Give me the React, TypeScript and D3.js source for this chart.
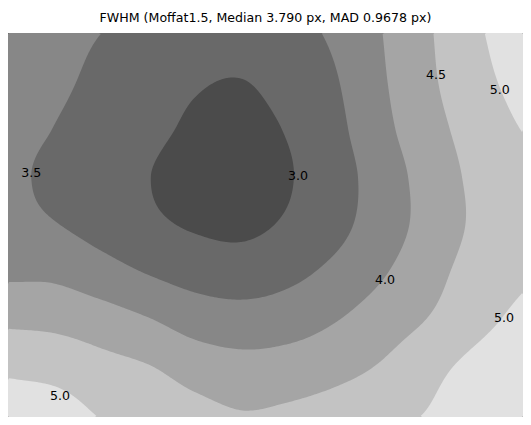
import { useMemo } from "react";
import * as d3 from "d3";

// FWHM samples (px) on a 12 x 9 grid over the detector, top row first
const fwhmRow0 = [3.75, 3.62, 3.5, 3.4, 3.3, 3.28, 3.38, 3.58, 4.0, 4.46, 4.92, 5.35];
const fwhmRow1 = [3.72, 3.58, 3.4, 3.2, 3.05, 2.99, 3.2, 3.47, 3.95, 4.42, 4.83, 5.2];
const fwhmRow2 = [3.65, 3.49, 3.3, 3.11, 2.93, 2.85, 3.04, 3.38, 3.87, 4.33, 4.7, 5.02];
const fwhmRow3 = [3.6, 3.4, 3.21, 3.01, 2.82, 2.75, 2.97, 3.3, 3.74, 4.21, 4.6, 4.78];
const fwhmRow4 = [3.65, 3.52, 3.32, 3.1, 2.95, 2.9, 3.07, 3.36, 3.76, 4.18, 4.58, 4.8];
const fwhmRow5 = [3.92, 3.9, 3.7, 3.48, 3.31, 3.24, 3.38, 3.63, 3.96, 4.33, 4.7, 4.92];
const fwhmRow6 = [4.42, 4.38, 4.24, 4.04, 3.8, 3.72, 3.79, 3.99, 4.26, 4.53, 4.85, 5.15];
const fwhmRow7 = [4.91, 4.84, 4.67, 4.54, 4.3, 4.18, 4.23, 4.36, 4.56, 4.86, 5.16, 5.45];
const fwhmRow8 = [5.38, 5.28, 4.98, 4.86, 4.7, 4.55, 4.62, 4.74, 4.89, 5.04, 5.32, 5.6];
const fwhmRows = [fwhmRow0, fwhmRow1, fwhmRow2, fwhmRow3, fwhmRow4, fwhmRow5, fwhmRow6, fwhmRow7, fwhmRow8];

const levels = [3.0, 3.5, 4.0, 4.5, 5.0];
const bandColors = ["#4b4b4b", "#696969", "#878787", "#a5a5a5", "#c3c3c3", "#e1e1e1"];

// contour labels, placed in plot fractions (0..1 across, 0..1 down)
const labelText = ["3.0", "3.5", "4.0", "4.5", "5.0", "5.0", "5.0"];
const labelU = [0.563, 0.045, 0.732, 0.831, 0.955, 0.963, 0.101];
const labelV = [0.370, 0.362, 0.643, 0.109, 0.146, 0.741, 0.945];

const title = "FWHM (Moffat1.5, Median 3.790 px, MAD 0.9678 px)";

const width = 531;
const height = 425;
const left = 8;
const right = 523;
const top = 33;
const bottom = 417;
const font = "DejaVu Sans, sans-serif";

const cr = (p0: number, p1: number, p2: number, p3: number, t: number) =>
  0.5 * (2 * p1 + (-p0 + p2) * t + (2 * p0 - 5 * p1 + 4 * p2 - p3) * t * t + (-p0 + 3 * p1 - 3 * p2 + p3) * t * t * t);

// bicubic (Catmull-Rom) read of the grid, linear extrapolation past the edges
const sample = (rows: number[][], c: number, r: number) => {
  const nr = rows.length;
  const nc = rows[0].length;
  const at = (i: number, j: number) => {
    const jj = Math.max(0, Math.min(nr - 1, j));
    const ii = Math.max(0, Math.min(nc - 1, i));
    let v = rows[jj][ii];
    if (i < 0) v += rows[jj][0] - rows[jj][1];
    if (i > nc - 1) v += rows[jj][nc - 1] - rows[jj][nc - 2];
    if (j < 0) v += rows[0][ii] - rows[1][ii];
    if (j > nr - 1) v += rows[nr - 1][ii] - rows[nr - 2][ii];
    return v;
  };
  const i = Math.min(nc - 2, Math.floor(c));
  const j = Math.min(nr - 2, Math.floor(r));
  const tx = c - i;
  const ty = r - j;
  const col = [-1, 0, 1, 2].map((dj) =>
    cr(at(i - 1, j + dj), at(i, j + dj), at(i + 1, j + dj), at(i + 2, j + dj), tx)
  );
  return cr(col[0], col[1], col[2], col[3], ty);
};

const ContourPlot = () => {
  const nc = fwhmRows[0].length;
  const nr = fwhmRows.length;
  const xScale = d3.scaleLinear().domain([0, 1]).range([left, right]);
  const yScale = d3.scaleLinear().domain([0, 1]).range([top, bottom]);

  const paths = useMemo(() => {
    const nx = 258;
    const ny = 192;
    const values = new Array(nx * ny);
    for (let y = 0; y < ny; y++) {
      for (let x = 0; x < nx; x++) {
        values[y * nx + x] = sample(fwhmRows, ((x + 0.5) / nx) * (nc - 1), ((y + 0.5) / ny) * (nr - 1));
      }
    }
    const proj = d3.geoTransform({
      point(x, y) {
        this.stream.point(xScale(x / nx), yScale(y / ny));
      },
    });
    const path = d3.geoPath(proj);
    return d3
      .contours()
      .size([nx, ny])
      .thresholds(levels)(values)
      .map((c) => path(c) ?? "");
  }, [nc, nr]);

  return (
    <svg width={width} height={height} style={{ position: "absolute", left: 0, top: 0 }}>
      <rect x={0} y={0} width={width} height={height} fill="#ffffff" />
      <text x={width / 2} y={22} textAnchor="middle" fontFamily={font} fontSize={12.6} fill="#000">
        {title}
      </text>
      <rect x={left} y={top} width={right - left} height={bottom - top} fill={bandColors[0]} />
      {paths.map((d, i) => (
        <path key={`band-${i}`} d={d} fill={bandColors[i + 1]} stroke="none" />
      ))}
      {labelText.map((t, i) => (
        <text
          key={`label-${i}`}
          x={xScale(labelU[i])}
          y={yScale(labelV[i])}
          textAnchor="middle"
          dominantBaseline="central"
          fontFamily={font}
          fontSize={12.6}
          fill="#000"
        >
          {t}
        </text>
      ))}
    </svg>
  );
};

const App = () => <ContourPlot />;

export default App;
